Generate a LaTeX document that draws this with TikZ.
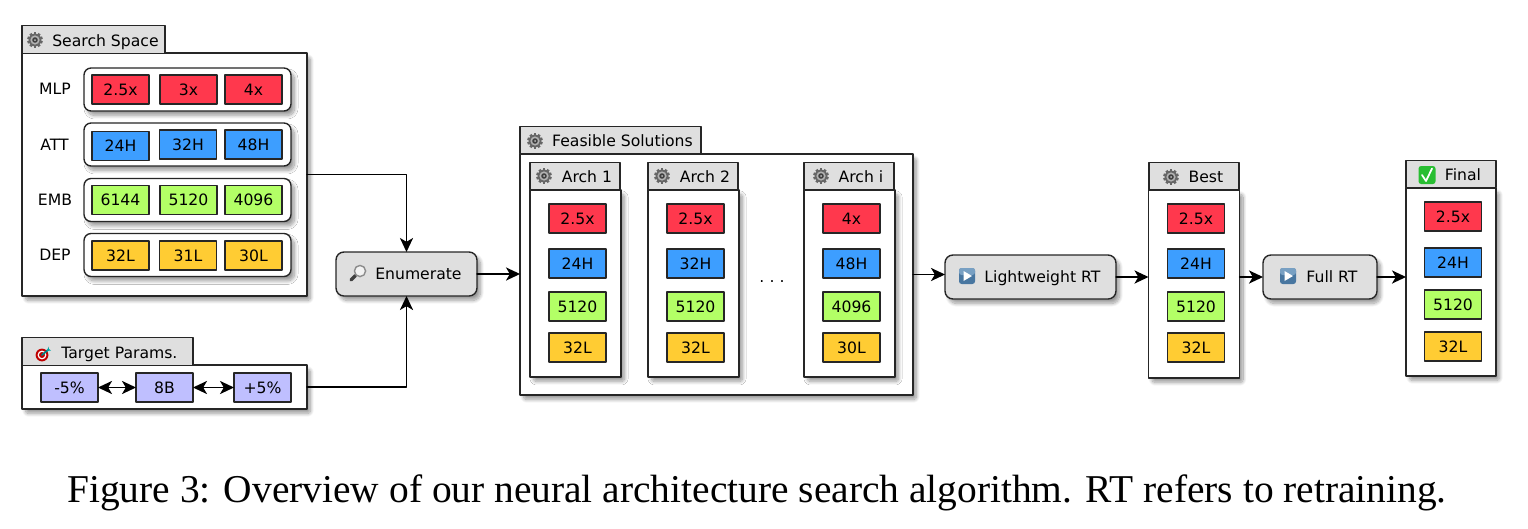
\documentclass[tikz,border=0pt]{standalone}
\usepackage{fontspec}
\setmainfont{DejaVu Sans}
\newfontfamily\capfont{Liberation Serif}
\usetikzlibrary{arrows.meta,shadows.blur}
\definecolor{redchip}{RGB}{255,56,77}
\definecolor{bluechip}{RGB}{61,158,255}
\definecolor{greenchip}{RGB}{179,255,102}
\definecolor{yellowchip}{RGB}{255,204,51}
\definecolor{lilacchip}{RGB}{191,191,255}
\definecolor{tabgray}{RGB}{223,223,223}
\definecolor{playdark}{RGB}{72,118,160}
\definecolor{playlight}{RGB}{120,160,195}
\definecolor{checkgreen}{RGB}{40,190,50}
\newcommand{\iconsp}{\hspace*{13.6pt}}
\tikzset{
	gearicon/.pic={
		\foreach \a in {0,36,...,324} \fill[black!60,rotate=\a] (-1.3,4.5) rectangle (1.3,7.8);
		\fill[black!60] (0,0) circle (6.4);
		\fill[black!30] (0,0) circle (4.6);
		\fill[black!75] (0,0) circle (2.8);
		\fill[black!25] (0,0) circle (1);
	},
	targeticon/.pic={
		\fill[red!75!black] (-1,1) circle (6.4);
		\fill[white] (-1,1) circle (4.4);
		\fill[red!75!black] (-1,1) circle (3);
		\draw[line width=1pt,teal] (-1,1) -- (5,-4);
		\fill[teal!70!cyan] (4,-3) -- (8,-3.5) -- (6,-5) -- (5.5,-7.5) -- cycle;
	},
	lensicon/.pic={
		\draw[line width=2pt,black!75,line cap=round] (-2.5,2.5) -- (-7,7);
		\draw[line width=.8pt,black!45,fill=black!5] (2,-2) circle (5.6);
	},
	playicon/.pic={
		\fill[playdark,rounded corners=1.5pt] (-8,-8) rectangle (8,8);
		\fill[playlight,rounded corners=1.5pt] (-8,-8) rectangle (8,-1);
		\fill[white] (-3.5,-5) -- (5,0) -- (-3.5,5) -- cycle;
	},
	checkicon/.pic={
		\fill[checkgreen,rounded corners=1.5pt] (-8.5,-9) rectangle (8.5,9);
		\draw[white,line width=1pt] (-5,0) -- (-1,6) -- (5,-6.5);
	}
}
\begin{document}
\begin{tikzpicture}[line cap=round,line join=round,x=0.02cm,y=-0.02cm,>={Stealth[length=8pt,width=7.5pt,inset=2.2pt]},
		every node/.style={font=\fontsize{8.9pt}{10pt}\selectfont,inner sep=0pt,outer sep=0pt,text height=6.5pt,text depth=0pt},
		chip/.style={draw=black!85,line width=0.75pt,minimum width=1.14cm,minimum height=0.58cm},
		panel/.style={draw=black!85,line width=0.8pt,fill=white,blur shadow={shadow xshift=2pt,shadow yshift=-2.5pt,shadow blur radius=2pt,shadow blur steps=12,shadow blur extra rounding=1.5pt,shadow opacity=40}},
		group/.style={panel,rounded corners=4pt,minimum width=4.14cm,minimum height=0.86cm},
		tab/.style={draw=black!85,line width=0.8pt,fill=tabgray,minimum height=0.55cm,text height=7.5pt},
		action/.style={panel,fill=tabgray,rounded corners=4.5pt,minimum height=0.88cm},
		arch/.style={panel,minimum width=1.82cm,minimum height=3.74cm},
		wire/.style={line width=0.75pt,black,->}]
	\useasboundingbox (0,0) rectangle (1528,528);
	% search space
	\node[panel,minimum width=5.7cm,minimum height=4.86cm] (searchbox) at (164.5,174.5) {};
	\node[tab,minimum width=2.86cm] (searchtab) at (93.5,39.5) {\iconsp Search Space};
	\node (mlplabel) at (55,89) {MLP};
	\node (attlabel) at (54.5,145) {ATT};
	\node (emblabel) at (55,200) {EMB};
	\node (deplabel) at (55,255) {DEP};
	\node[group] (mlpgroup) at (187.5,89.5) {};
	\node[group] (attgroup) at (187.5,144.5) {};
	\node[group] (embgroup) at (187.5,200) {};
	\node[group] (depgroup) at (187.5,255) {};
	\node[chip,fill=redchip] (M1) at (120.5,89.5) {2.5x};
	\node[chip,fill=redchip] (M2) at (188.5,89.5) {3x};
	\node[chip,fill=redchip] (M3) at (253.5,89.5) {4x};
	\node[chip,fill=bluechip] (A1) at (120.5,146) {24H};
	\node[chip,fill=bluechip] (A2) at (188,144.5) {32H};
	\node[chip,fill=bluechip] (A3) at (253.5,144.5) {48H};
	\node[chip,fill=greenchip] (E1) at (120.5,200) {6144};
	\node[chip,fill=greenchip] (E2) at (188.5,200) {5120};
	\node[chip,fill=greenchip] (E3) at (253.5,200) {4096};
	\node[chip,fill=yellowchip] (D1) at (120.5,255.5) {32L};
	\node[chip,fill=yellowchip] (D2) at (188,255.5) {31L};
	\node[chip,fill=yellowchip] (D3) at (253.5,255.5) {30L};
	% target params
	\node[panel,minimum width=5.7cm,minimum height=0.88cm] (targetbox) at (164.5,387) {};
	\node[tab,minimum width=3.42cm] (targettab) at (107.5,351.5) {\iconsp Target Params.};
	\node[chip,fill=lilacchip] (T1) at (69.5,387.5) {-5\%};
	\node[chip,fill=lilacchip] (T2) at (164.5,387.5) {8B};
	\node[chip,fill=lilacchip] (T3) at (262.5,387.5) {+5\%};
	\draw[wire,<->] (T1) -- (T2);
	\draw[wire,<->] (T2) -- (T3);
	% enumerate
	\node[action,minimum width=2.82cm] (enumbox) at (406.5,274) {\iconsp Enumerate};
	\draw[wire] (searchbox.east) -| (enumbox.north);
	\draw[wire] (targetbox.east) -| (enumbox.south);
	% feasible solutions
	\node[panel,minimum width=7.86cm,minimum height=4.82cm] (feasbox) at (716.5,274.5) {};
	\node[tab,minimum width=3.62cm] (feastab) at (610.5,140) {\iconsp Feasible Solutions};
	\node[arch] (archa) at (575.5,283.5) {};
	\node[tab,minimum width=1.8cm] (archatab) at (575,176) {\iconsp Arch 1};
	\node[chip,fill=redchip] (P1) at (577.5,218.5) {2.5x};
	\node[chip,fill=bluechip] (P2) at (577.5,263.5) {24H};
	\node[chip,fill=greenchip] (P3) at (577.5,306.5) {5120};
	\node[chip,fill=yellowchip] (P4) at (577.5,347.5) {32L};
	\node[arch] (archb) at (693.5,283.5) {};
	\node[tab,minimum width=1.8cm] (archbtab) at (693,176) {\iconsp Arch 2};
	\node[chip,fill=redchip] (Q1) at (695.5,218.5) {2.5x};
	\node[chip,fill=bluechip] (Q2) at (695.5,263.5) {32H};
	\node[chip,fill=greenchip] (Q3) at (695.5,306.5) {5120};
	\node[chip,fill=yellowchip] (Q4) at (695.5,347.5) {32L};
	\node (dots) at (772,277) {.\,\,.\,\,.};
	\node[arch] (archi) at (849.5,283.5) {};
	\node[tab,minimum width=1.8cm] (architab) at (849,176) {\iconsp Arch i};
	\node[chip,fill=redchip] (R1) at (851.5,218.5) {4x};
	\node[chip,fill=bluechip] (R2) at (851.5,263.5) {48H};
	\node[chip,fill=greenchip] (R3) at (851.5,306.5) {4096};
	\node[chip,fill=yellowchip] (R4) at (851.5,347.5) {30L};
	\draw[wire] (enumbox.east) -- (enumbox.east -| feasbox.west);
	% retraining
	\node[action,minimum width=3.42cm] (lightbox) at (1030.5,277) {\iconsp Lightweight RT};
	\draw[wire] (feasbox.east) -- (feasbox.east -| lightbox.west);
	\node[arch,minimum height=3.76cm] (bestbox) at (1194,284) {};
	\node[tab,minimum width=1.8cm] (besttab) at (1194,176) {\iconsp Best};
	\node[chip,fill=redchip] (B1) at (1196,218.5) {2.5x};
	\node[chip,fill=bluechip] (B2) at (1196,263.5) {24H};
	\node[chip,fill=greenchip] (B3) at (1196,306.5) {5120};
	\node[chip,fill=yellowchip] (B4) at (1196,347.5) {32L};
	\draw[wire] (lightbox.east) -- (lightbox.east -| bestbox.west);
	\node[action,minimum width=2.28cm] (fullbox) at (1320,277) {\iconsp Full RT};
	\draw[wire] (fullbox.west -| bestbox.east) -- (fullbox.west);
	\node[arch,minimum width=1.8cm,minimum height=3.76cm] (finalbox) at (1451,282) {};
	\node[tab,minimum width=1.8cm] (finaltab) at (1451,174) {\iconsp Final};
	\node[chip,fill=redchip] (F1) at (1453,216.5) {2.5x};
	\node[chip,fill=bluechip] (F2) at (1453,262.5) {24H};
	\node[chip,fill=greenchip] (F3) at (1453,304.5) {5120};
	\node[chip,fill=yellowchip] (F4) at (1453,346.5) {32L};
	\draw[wire] (fullbox.east) -- (fullbox.east -| finalbox.west);
	% icons
	\pic at (35,40) {gearicon};
	\pic at (535,141) {gearicon};
	\pic at (544,176) {gearicon};
	\pic at (662,176) {gearicon};
	\pic at (821,176) {gearicon};
	\pic at (1171,177) {gearicon};
	\pic at (43,354) {targeticon};
	\pic at (358,273) {lensicon};
	\pic at (967,276) {playicon};
	\pic at (1288,276) {playicon};
	\pic at (1427,175) {checkicon};
	% caption
	\node[font=\capfont\fontsize{22.44pt}{25pt}\selectfont,text height=14pt] (caption) at (757,490) {Figure 3: Overview of our neural architecture search algorithm. RT refers to retraining.};
\end{tikzpicture}
\end{document}
